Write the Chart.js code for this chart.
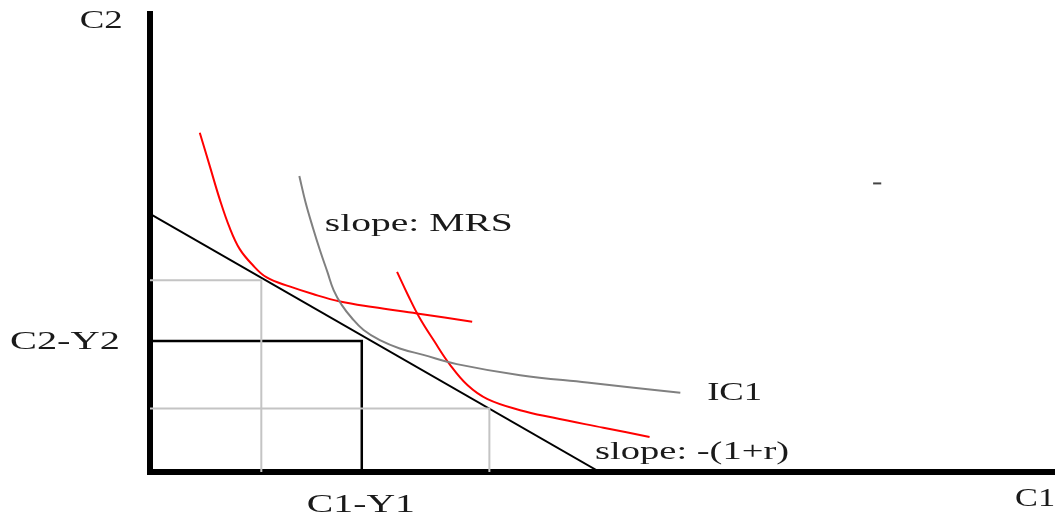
<!DOCTYPE html>
<html>
<head>
<meta charset="utf-8">
<script src="https://cdn.jsdelivr.net/npm/chart.js@4/dist/chart.umd.min.js"></script>
<style>
  body { margin: 0; background: #fff; }
  canvas { display: block; }
</style>
</head>
<body>
<canvas id="myChart" width="1062" height="522"></canvas>
<script>
// Diagram values (x = C1, y = C2)
const axisX = [0, 0, 100];
const axisY = [50, 0, 0];

const budgetX = [0, 49.7];
const budgetY = [28, 0];

const boxX = [0, 23.4, 23.4];
const boxY = [14.2, 14.2, 0];

const guideAX = [0, 12.3, 12.3];
const guideAY = [20.8, 20.8, 0];
const guideBX = [0, 37.5, 37.5];
const guideBY = [6.9, 6.9, 0];

const ic1X = [16.5, 17.2, 18.0, 18.8, 19.6, 20.3, 21.2, 22.3, 23.6, 25.4, 27.6, 30.2, 33.9, 40.9, 48.3, 58.6];
const ic1Y = [32.1, 29.2, 26.5, 24.0, 21.7, 19.7, 18.1, 16.7, 15.4, 14.3, 13.4, 12.7, 11.7, 10.5, 9.7, 8.6];

const redAX = [5.5, 6.6, 7.7, 8.8, 9.9, 11.3, 12.9, 15.5, 18.0, 21.0, 24.6, 29.5, 35.6];
const redAY = [36.8, 33.2, 29.6, 26.5, 24.2, 22.5, 21.1, 20.1, 19.3, 18.5, 17.9, 17.2, 16.3];

const redBX = [27.3, 28.5, 29.8, 31.4, 33.1, 35.1, 37.3, 40.9, 44.5, 50.1, 55.2];
const redBY = [21.7, 19.2, 16.7, 14.2, 11.7, 9.4, 7.9, 6.7, 5.9, 4.8, 3.8];

const dotX = [79.9, 80.8];
const dotY = [31.3, 31.3];

const labelTexts = ['C2', 'slope: MRS', 'C2-Y2', 'IC1', 'slope: -(1+r)', 'C1-Y1', 'C1'];

// turn two lists into {x, y} points
function pts(xs, ys) {
    return xs.map((x, i) => ({ x: x, y: ys[i] }));
}

function line(xs, ys, color, width, extra) {
    return Object.assign({
        data: pts(xs, ys),
        borderColor: color,
        borderWidth: width,
        pointRadius: 0,
        fill: false,
        tension: 0
    }, extra || {});
}

// labels drawn as text, stretched to the width seen in the picture
const labelPlugin = {
    id: 'labels',
    afterDatasetsDraw(chart, args, opts) {
        const ctx = chart.ctx;
        const xs = chart.scales.x;
        const ys = chart.scales.y;
        ctx.save();
        ctx.fillStyle = '#1a1a1a';
        ctx.font = '26px "Liberation Serif", "Times New Roman", serif';
        ctx.textAlign = 'center';
        ctx.textBaseline = 'middle';
        labelTexts.forEach((text, i) => {
            const at = opts.at[i];
            const px = xs.getPixelForValue(at[0]);
            const py = ys.getPixelForValue(at[1]);
            const sx = at[2] / ctx.measureText(text).width;
            ctx.save();
            ctx.translate(px, py);
            ctx.scale(sx, 1);
            ctx.fillText(text, 0, 0);
            ctx.restore();
        });
        ctx.restore();
    }
};

const ctx = document.getElementById('myChart').getContext('2d');

const myChart = new Chart(ctx, {
    type: 'line',
    data: {
        datasets: [
            line(guideAX, guideAY, '#c4c4c4', 2),
            line(guideBX, guideBY, '#c4c4c4', 2),
            line(boxX, boxY, '#000', 2.5, { borderJoinStyle: 'miter' }),
            line(budgetX, budgetY, '#000', 2),
            line(ic1X, ic1Y, '#808080', 2, { tension: 0.4 }),
            line(redAX, redAY, '#ff0000', 2, { tension: 0.4 }),
            line(redBX, redBY, '#ff0000', 2, { tension: 0.4 }),
            line(dotX, dotY, '#444', 2),
            line(axisX, axisY, '#000', 6, { clip: false, borderJoinStyle: 'miter' })
        ]
    },
    options: {
        responsive: false,
        animation: false,
        layout: {
            padding: { left: 150, right: 7, top: 11, bottom: 50 }
        },
        scales: {
            x: { type: 'linear', min: 0, max: 100, display: false },
            y: { type: 'linear', min: 0, max: 50, display: false }
        },
        plugins: {
            legend: { display: false },
            tooltip: { enabled: false },
            labels: {
                // [x, y, width in px]
                at: [
                    [-5.4, 48.9, 43],
                    [29.7, 26.9, 188],
                    [-9.4, 14.1, 110],
                    [64.6, 8.6, 55],
                    [59.9, 2.2, 194],
                    [23.3, -3.6, 108],
                    [97.8, -3.0, 40]
                ]
            }
        }
    },
    plugins: [labelPlugin]
});
</script>
</body>
</html>
